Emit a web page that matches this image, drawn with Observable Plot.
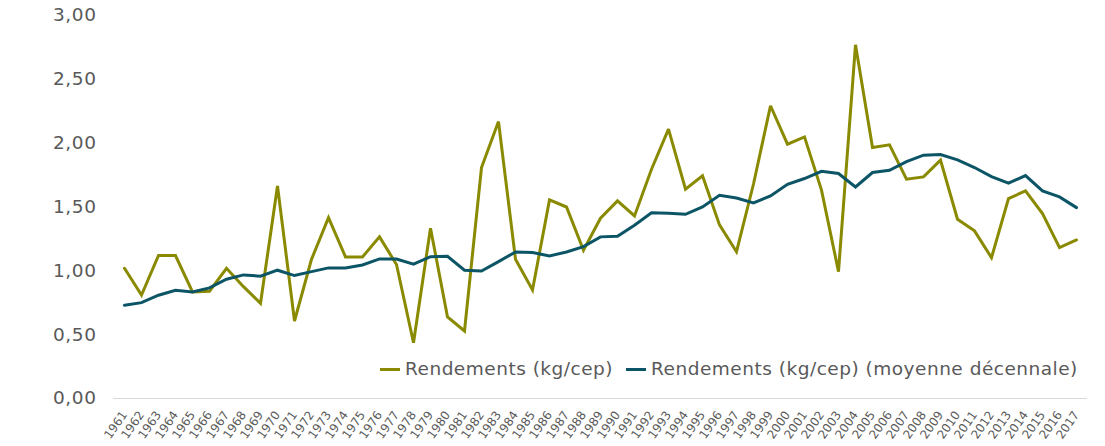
<!DOCTYPE html>
<html>
<head>
<meta charset="utf-8">
<script src="https://cdn.jsdelivr.net/npm/d3@7"></script>
<script src="https://cdn.jsdelivr.net/npm/@observablehq/plot@0.6"></script>
<style>
  html, body { margin: 0; padding: 0; background: #fff; }
  #wrap { position: relative; width: 1105px; height: 446px; font-family: "DejaVu Sans", Verdana, sans-serif; }
  #legend { position: absolute; left: 380px; top: 357px; display: flex; align-items: center; font-size: 18.5px; letter-spacing: 0.5px; color: #595959; line-height: 24px; white-space: nowrap; }
  .sw { display: inline-block; width: 20px; height: 3px; margin-right: 5px; }
  .item { display: flex; align-items: center; margin-right: 13px; }
</style>
</head>
<body>
<div id="wrap"><div id="chart"></div><div id="legend"></div></div>
<script>
const years = [1961,1962,1963,1964,1965,1966,1967,1968,1969,1970,1971,1972,1973,1974,1975,1976,1977,1978,1979,1980,1981,1982,1983,1984,1985,1986,1987,1988,1989,1990,1991,1992,1993,1994,1995,1996,1997,1998,1999,2000,2001,2002,2003,2004,2005,2006,2007,2008,2009,2010,2011,2012,2013,2014,2015,2016,2017];

const rendements = [1.02,0.81,1.12,1.12,0.835,0.84,1.02,0.876,0.746,1.665,0.607,1.09,1.417,1.109,1.109,1.266,1.05,0.437,1.334,0.639,0.529,1.809,2.169,1.091,0.85,1.556,1.50,1.161,1.412,1.548,1.43,1.796,2.11,1.639,1.744,1.36,1.15,1.68,2.293,1.992,2.049,1.632,0.994,2.77,1.966,1.987,1.718,1.736,1.867,1.404,1.313,1.103,1.566,1.626,1.448,1.182,1.242];

const moyenne = [0.73,0.751,0.809,0.848,0.835,0.866,0.934,0.968,0.958,1.005,0.963,0.994,1.023,1.023,1.046,1.093,1.093,1.052,1.111,1.114,1.005,0.999,1.072,1.148,1.143,1.117,1.148,1.19,1.266,1.271,1.357,1.454,1.451,1.443,1.50,1.592,1.571,1.532,1.587,1.678,1.723,1.78,1.762,1.657,1.77,1.788,1.856,1.906,1.911,1.869,1.809,1.738,1.687,1.746,1.626,1.579,1.495];

const yTicks = [0, 0.5, 1, 1.5, 2, 2.5, 3];
const seriesNames = ["Rendements (kg/cep)", "Rendements (kg/cep) (moyenne décennale)"];
const seriesColors = ["#8a8a00", "#0c5566"];

const data = [];
years.forEach((yr, i) => {
  data.push({year: yr, value: rendements[i], serie: seriesNames[0]});
  data.push({year: yr, value: moyenne[i], serie: seriesNames[1]});
});

const chart = Plot.plot({
  width: 1105,
  height: 446,
  marginLeft: 113,
  marginRight: 18,
  marginTop: 15,
  marginBottom: 48,
  style: {fontFamily: '"DejaVu Sans", Verdana, sans-serif', color: "#595959", background: "#fff"},
  x: {type: "point", domain: years, padding: 0.5},
  y: {domain: [0, 3]},
  color: {domain: seriesNames, range: seriesColors},
  marks: [
    Plot.ruleY([0], {stroke: "#d9d9d9", strokeWidth: 1}),
    Plot.lineY(data, {x: "year", y: "value", z: "serie", stroke: "serie", strokeWidth: 3, strokeLinejoin: "miter", strokeMiterlimit: 3}),
    Plot.axisY({ticks: yTicks, tickSize: 0, tickPadding: 17, fontSize: 18.5, fill: "#595959", label: null,
      tickFormat: d => d.toFixed(2).replace(".", ",")}),
    Plot.axisX({tickSize: 0, tickPadding: 8, dy: 6, tickRotate: -55, fontSize: 12, fill: "#595959", label: null, tickFormat: d => String(d)})
  ]
});
chart.querySelectorAll('[aria-label="y-axis tick label"] text').forEach(t => t.setAttribute("letter-spacing", "0.6"));
document.getElementById("chart").appendChild(chart);

const legend = document.getElementById("legend");
seriesNames.forEach((name, i) => {
  const item = document.createElement("span");
  item.className = "item";
  const sw = document.createElement("span");
  sw.className = "sw";
  sw.style.background = seriesColors[i];
  const t = document.createElement("span");
  t.textContent = name;
  item.appendChild(sw);
  item.appendChild(t);
  legend.appendChild(item);
});
</script>
</body>
</html>
